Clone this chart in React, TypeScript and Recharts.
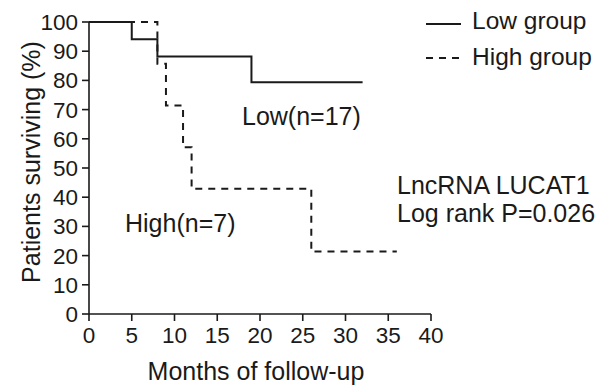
import { Line, LineChart, XAxis, YAxis, Label } from "recharts";

// Kaplan-Meier steps (months, % surviving)
const lowMonths = [0, 5, 8, 19, 32];
const lowSurvival = [100, 94.1, 88.2, 79.4, 79.4];
const highMonths = [0, 8, 9, 11, 12, 26, 36];
const highSurvival = [100, 85.7, 71.4, 57.1, 42.9, 21.4, 21.4];

const xTicks = [0, 5, 10, 15, 20, 25, 30, 35, 40];
const yTicks = [0, 10, 20, 30, 40, 50, 60, 70, 80, 90, 100];

const lowData = lowMonths.map((m, i) => ({ m, s: lowSurvival[i] }));
const highData = highMonths.map((m, i) => ({ m, s: highSurvival[i] }));

const FONT = '"Liberation Sans", Arial, sans-serif';
const INK = "#1a1a1a";

export default function App() {
  return (
    <div style={{ position: "absolute", left: 0, top: 0, width: 600, height: 390, background: "#fff", fontFamily: FONT }}>
      <LineChart width={600} height={390} margin={{ top: 22, right: 169, bottom: 0, left: 0 }}>
        <XAxis
          dataKey="m"
          type="number"
          domain={[0, 40]}
          ticks={xTicks}
          height={76}
          tickSize={7}
          tickMargin={6}
          stroke={INK}
          strokeWidth={1.6}
          tick={{ fontSize: 22.5, fill: INK }}
          interval={0}
          allowDataOverflow
        >
          <Label
            content={() => (
              <text x={256} y={380} textAnchor="middle" fontSize={25} fill={INK} fontFamily={FONT}>
                Months of follow-up
              </text>
            )}
          />
        </XAxis>
        <YAxis
          type="number"
          domain={[0, 100]}
          ticks={yTicks}
          width={89}
          tickSize={7}
          tickMargin={4}
          stroke={INK}
          strokeWidth={1.6}
          tick={{ fontSize: 22.5, fill: INK }}
          interval={0}
        >
          <Label
            content={() => (
              <text x={40} y={162} transform="rotate(-90 40 162)" textAnchor="middle" fontSize={25} fill={INK} fontFamily={FONT}>
                Patients surviving (%)
              </text>
            )}
          />
        </YAxis>
        <Line
          data={lowData}
          dataKey="s"
          type="stepAfter"
          stroke={INK}
          strokeWidth={2}
          dot={false}
          isAnimationActive={false}
          name="Low group"
        />
        <Line
          data={highData}
          dataKey="s"
          type="stepAfter"
          stroke={INK}
          strokeWidth={2}
          strokeDasharray="7 6"
          dot={false}
          isAnimationActive={false}
          name="High group"
        />
      </LineChart>
      {/* legend and annotations */}
      <svg width={600} height={390} style={{ position: "absolute", left: 0, top: 0, pointerEvents: "none" }}>
        <line x1={426} y1={24} x2={461} y2={24} stroke={INK} strokeWidth={2} />
        <line x1={426} y1={58} x2={461} y2={58} stroke={INK} strokeWidth={2} strokeDasharray="7 6" />
        <g fontSize={24.5} fill={INK} fontFamily={FONT}>
          <text x={472} y={29}>Low group</text>
          <text x={472} y={65}>High group</text>
        </g>
        <g fontSize={25} fill={INK} fontFamily={FONT}>
          <text x={242} y={125}>Low(n=17)</text>
          <text x={125} y={232}>High(n=7)</text>
          <text x={397} y={194}>LncRNA LUCAT1</text>
          <text x={397} y={222}>Log rank P=0.026</text>
        </g>
      </svg>
    </div>
  );
}
